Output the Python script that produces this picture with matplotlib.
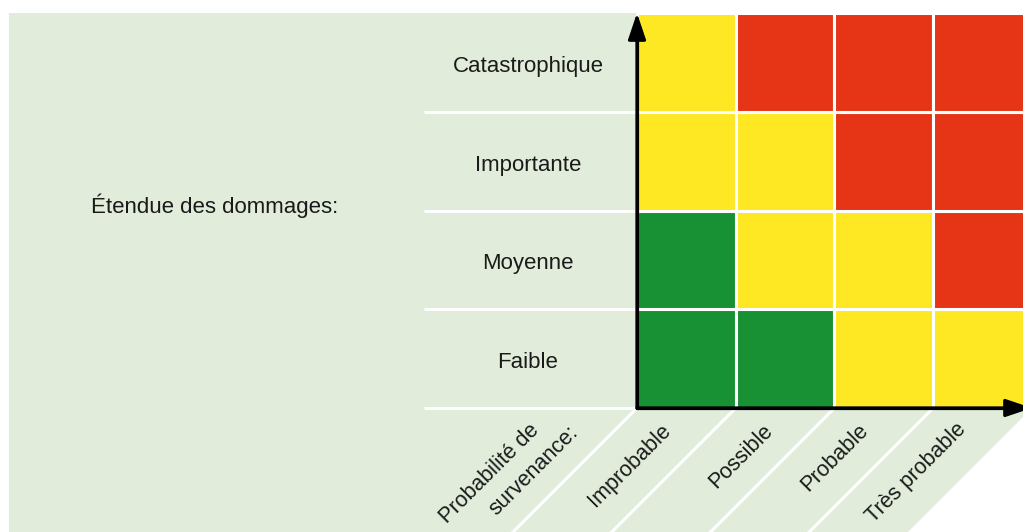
import matplotlib
matplotlib.use("Agg")
import matplotlib.pyplot as plt
from matplotlib.patches import Rectangle, Polygon

plt.rcParams['font.family'] = ['Liberation Sans', 'DejaVu Sans']

# ---- data ----
damage_levels = ['Faible', 'Moyenne', 'Importante', 'Catastrophique']   # bottom -> top
probability_levels = ['Improbable', 'Possible', 'Probable', 'Très probable']  # left -> right
# risk class per (damage row, probability column): 0 = low, 1 = medium, 2 = high
risk_faible = [0, 0, 1, 1]
risk_moyenne = [0, 1, 1, 2]
risk_importante = [1, 1, 2, 2]
risk_catastrophique = [1, 2, 2, 2]
risk_matrix = [risk_faible, risk_moyenne, risk_importante, risk_catastrophique]
y_title = 'Étendue des dommages:'
x_title_lines = ['Probabilité de', 'survenance:']

risk_colors = ['#179133', '#FEE723', '#E53516']
bg_color = '#E1EDDA'
text_color = '#1a1a1a'

fig = plt.figure(figsize=(10.23, 5.32), dpi=100)
ax = fig.add_axes([0, 0, 1, 1])
ax.set_xlim(-6.451, 3.909)
ax.set_ylim(-1.256, 4.132)
ax.axis('off')

n_cols = len(probability_levels)
n_rows = len(damage_levels)
d = 1.35  # depth of the diagonal strip band

# background
ax.add_patch(Polygon([(-6.36, n_rows), (4.3, n_rows), (4.3, 0), (n_cols, 0),
                      (n_cols - d, -d), (-6.36, -d)],
                     closed=True, facecolor=bg_color, edgecolor='none', zorder=0))

# cells
for i, row in enumerate(risk_matrix):
    for j, r in enumerate(row):
        ax.add_patch(Rectangle((j, i), 1, 1, facecolor=risk_colors[r],
                               edgecolor='white', lw=2.2, zorder=2))

# white separators on the left
for k in range(n_rows):
    ax.plot([-2.157, 0], [k, k], color='white', lw=2.2, zorder=1,
            solid_capstyle='butt')
# diagonal separators
for j in range(n_cols):
    ax.plot([j, j - d], [0, -d], color='white', lw=2.2, zorder=1,
            solid_capstyle='butt')

# axes with arrows
ax.plot([0, 0, n_cols - 0.15], [n_rows - 0.15, 0, 0], color='black', lw=2.3,
        zorder=5, solid_joinstyle='miter', solid_capstyle='butt', clip_on=False)
for tip in [(0, n_rows), (n_cols, 0)]:
    ax.annotate('', xy=tip, xytext=(0, 0), annotation_clip=False,
                arrowprops=dict(arrowstyle='-|>,head_length=0.8,head_width=0.27',
                                mutation_scale=20, lw=2.3, color='black',
                                shrinkA=0, shrinkB=0),
                zorder=6)

# row labels
for i, lab in enumerate(damage_levels):
    ax.text(-1.104, i + 0.5 - 0.096, lab, ha='center', va='baseline',
            fontsize=16, color=text_color, zorder=7)
ax.text(-4.273, 1.975, y_title, ha='center', va='baseline', fontsize=16,
        color=text_color, zorder=7)

# rotated column labels
col_label_pos = [(-0.071, -0.587), (1.058, -0.486), (2.005, -0.501), (2.83, -0.653)]
for lab, (x, y) in zip(probability_levels, col_label_pos):
    ax.text(x, y, lab, rotation=45, rotation_mode='anchor', ha='center',
            va='center', fontsize=15.5, color=text_color, zorder=7)

x_title_pos = [(-1.489, -0.668), (-1.043, -0.638)]
for lab, (x, y) in zip(x_title_lines, x_title_pos):
    ax.text(x, y, lab, rotation=45, rotation_mode='anchor', ha='center',
            va='center', fontsize=15.5, color=text_color, zorder=7)

fig.savefig('out.png', dpi=100)
